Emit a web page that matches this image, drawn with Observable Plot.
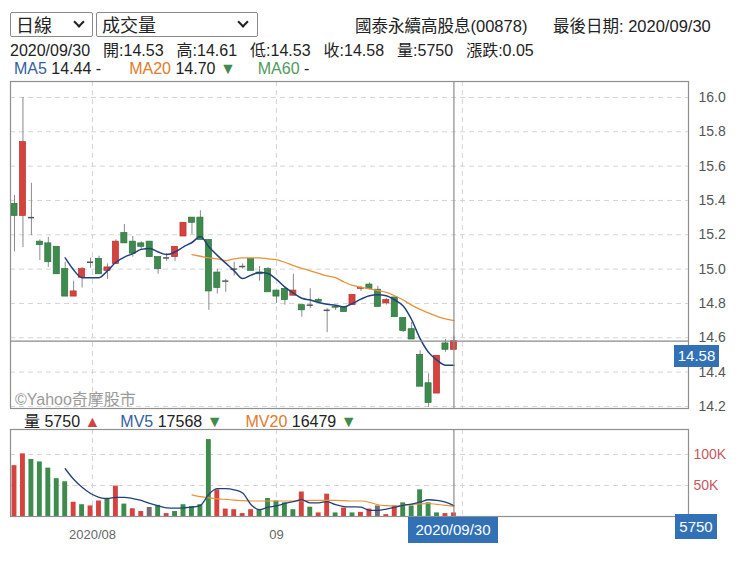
<!DOCTYPE html>
<html><head><meta charset="utf-8">
<script src="https://cdn.jsdelivr.net/npm/d3@7"></script>
<script src="https://cdn.jsdelivr.net/npm/@observablehq/plot@0.6"></script>
<style>
body{margin:0;background:#fff;font-family:"Liberation Sans","Noto Sans CJK TC",sans-serif;color:#222;}
#wrap{position:relative;width:740px;height:564px;overflow:hidden;}
.abs{position:absolute;white-space:nowrap;}
.sel{position:absolute;border:1px solid #8a8a8a;border-radius:2px;height:25px;box-sizing:border-box;font-size:18px;line-height:23px;padding-left:5px;color:#222;font-family:"Noto Sans CJK TC",sans-serif;}
.chev{position:absolute;width:6px;height:6px;border-right:2px solid #222;border-bottom:2px solid #222;transform:rotate(45deg);top:5px;}
.t15{font-size:16px;}
.box{position:absolute;background:#3271b6;color:#fff;text-align:center;font-size:15px;}
.sp{margin-right:13px;}
</style>
</head><body>
<div id="wrap">
  <div class="sel" style="left:10px;top:12px;width:83px;">日線<span class="chev" style="left:64px"></span></div>
  <div class="sel" style="left:96px;top:12px;width:162px;">成交量<span class="chev" style="left:142px"></span></div>
  <div class="abs" style="left:355px;top:13px;font-size:16.5px;">國泰永續高股息(00878)</div>
  <div class="abs" style="left:553px;top:13px;font-size:16.5px;">最後日期: 2020/09/30</div>
  <div class="abs t15" id="info" style="left:10px;top:37px;"></div>
  <div class="abs t15" id="ma" style="left:14px;top:60px;"></div>
  <div id="mainChart" class="abs" style="left:0;top:76px;"></div>
  <div class="abs" style="left:15px;top:386px;font-size:16px;color:#9a9a9a;">©Yahoo奇摩股市</div>
  <div class="abs t15" id="vhead" style="left:24px;top:408px;"></div>
  <div id="volChart" class="abs" style="left:0;top:424px;"></div>
  <div class="box" id="pbox" style="left:674px;top:345px;width:45px;height:22px;line-height:22px;"></div>
  <div class="box" style="left:408px;top:517px;width:90px;height:26px;line-height:26px;">2020/09/30</div>
  <div class="box" id="vbox" style="left:675px;top:514px;width:42px;height:25px;line-height:25px;"></div>
</div>
<script>
// ---- data (index 0 = 2020/07/20 ... index 52 = 2020/09/30) ----
const open  = [15.38,15.31,15.30,15.16,15.15,15.13,15.00,14.84,14.95,15.04,15.06,14.99,15.03,15.21,15.16,15.15,15.16,15.07,15.065,15.07,15.19,15.30,15.30,15.17,14.98,14.93,15.00,15.015,15.06,14.98,15.00,14.875,14.885,14.845,14.79,14.79,14.82,14.76,14.78,14.78,14.79,14.885,14.91,14.88,14.80,14.835,14.715,14.65,14.50,14.335,14.275,14.567,14.53];
const high  = [15.43,16.00,15.50,15.17,15.185,15.13,15.04,14.93,15.01,15.065,15.075,15.03,15.17,15.26,15.19,15.16,15.16,15.07,15.09,15.13,15.27,15.30,15.34,15.17,15.00,14.94,15.04,15.03,15.06,15.015,15.01,14.875,14.885,14.97,14.79,14.886,14.83,14.77,14.785,14.78,14.85,14.90,14.92,14.90,14.83,14.835,14.715,14.69,14.525,14.39,14.495,14.59,14.61];
const low   = [15.10,15.125,15.195,15.05,15.01,14.97,14.84,14.84,14.89,15.005,14.97,14.94,15.03,15.15,15.07,15.11,15.07,14.97,15.045,15.045,15.19,15.20,15.17,14.76,14.855,14.865,14.96,15.00,14.99,14.93,14.865,14.80,14.79,14.845,14.72,14.77,14.80,14.63,14.76,14.75,14.79,14.87,14.88,14.78,14.79,14.72,14.63,14.59,14.315,14.195,14.275,14.515,14.53];
const close = [15.31,15.74,15.30,15.14,15.04,14.97,14.84,14.87,15.00,15.04,14.97,15.01,15.16,15.15,15.09,15.13,15.07,15.00,15.065,15.13,15.27,15.27,15.17,14.87,14.89,14.93,15.00,15.015,14.99,14.97,14.865,14.84,14.82,14.875,14.76,14.79,14.81,14.76,14.775,14.75,14.85,14.89,14.885,14.78,14.82,14.72,14.64,14.59,14.315,14.22,14.495,14.53,14.58];
const ma5 = [null,null,null,null,null,null,15.065,14.995,14.95,14.95,14.95,14.99,15.04,15.07,15.09,15.115,15.12,15.10,15.085,15.10,15.13,15.155,15.19,15.13,15.08,15.035,14.99,14.945,14.965,14.98,14.975,14.94,14.895,14.86,14.83,14.82,14.805,14.795,14.79,14.78,14.80,14.825,14.845,14.85,14.845,14.82,14.785,14.705,14.595,14.515,14.47,14.44,14.44];
const ma20 = [null,null,null,null,null,null,null,null,null,null,null,null,null,null,null,null,null,null,null,null,null,15.085,15.075,15.065,15.06,15.05,15.06,15.065,15.065,15.065,15.06,15.055,15.04,15.02,15.005,14.99,14.975,14.96,14.95,14.925,14.905,14.895,14.885,14.875,14.865,14.845,14.82,14.79,14.765,14.745,14.725,14.71,14.70];
const volume = [82000,101000,92000,88000,78000,61000,56000,23000,19000,17000,25000,28000,49000,20000,12500,8000,14500,18000,4700,8000,19000,16000,19000,124000,43000,12000,11000,4700,11000,11000,29000,25000,22000,11000,39500,15000,5800,36000,5800,13600,5800,6700,12000,17000,3000,17000,22000,17000,43000,22000,5800,4700,5750];
const volDir = ["u","u","d","d","d","d","d","u","d","u","u","d","u","d","u","u","f","d","u","d","d","d","d","d","u","u","u","u","u","d","d","d","d","d","u","d","u","u","d","u","d","u","u","f","u","u","d","d","d","d","d","u","u"];
const mv5 = [null,null,null,null,null,null,77000,60000,47000,37000,31000,29000,31000,31000,29000,26000,21000,17000,14000,13600,14000,15000,18000,36000,45000,45000,43000,38000,19000,11000,15000,17000,21000,24000,27000,22000,22000,24000,19000,16000,15500,15000,10000,10000,12000,15000,18000,20000,23000,27000,26000,23000,17568];
const mv20 = [null,null,null,null,null,null,null,null,null,null,null,null,null,null,null,null,null,null,null,null,null,35000,32000,30000,28500,27500,26500,25500,25000,25000,25000,25000,25000,25000,25500,26000,26000,26000,26000,25500,25000,25000,23000,19000,17500,17000,18000,19500,20500,21000,19500,18000,16479];
const priceTicks = [14.2,14.4,14.6,14.8,15.0,15.2,15.4,15.6,15.8,16.0];
const volTicks = [0,50000,100000];
const volLabelTicks = [50000,100000];
const monthPos = [9.23,31,53];
const monthLabels = ["2020/08","09","10"];
const lastIndex = 52;

const RED="#d6433e", GREEN="#3d8c4d", GRAY="#6f6f6f";
const fillC = {u:RED,d:GREEN,f:GRAY};
const edgeC = {u:"#b8322e",d:"#2e7040",f:"#555"};

const last = lastIndex;
const chg = (close[last]-close[last-1]).toFixed(2);
const gap = w => `<span style="display:inline-block;width:${w}px"></span>`;
document.getElementById("info").innerHTML =
  `<span class="sp">2020/09/30</span><span class="sp">開:${open[last].toFixed(2)}</span><span class="sp">高:${high[last].toFixed(2)}</span><span class="sp">低:${low[last].toFixed(2)}</span><span class="sp">收:${close[last].toFixed(2)}</span><span class="sp">量:${volume[last]}</span><span>漲跌:${chg}</span>`;
document.getElementById("ma").innerHTML =
  `<span style="color:#35609f">MA5</span> ${ma5[last].toFixed(2)} -${gap(28)}<span style="color:#e07b2a">MA20</span> ${ma20[last].toFixed(2)} <span style="color:${GREEN}">▼</span>${gap(22)}<span style="color:#4f9a5e">MA60</span> -`;
document.getElementById("vhead").innerHTML =
  `量 ${volume[last]} <span style="color:${RED}">▲</span>${gap(20)}<span style="color:#35609f">MV5</span> ${mv5[last]} <span style="color:${GREEN}">▼</span>${gap(23)}<span style="color:#e07b2a">MV20</span> ${mv20[last]} <span style="color:${GREEN}">▼</span>`;
document.getElementById("pbox").textContent = close[last].toFixed(2);
document.getElementById("vbox").textContent = volume[last];

const rows = open.map((o,i)=>({i,o,h:high[i],l:low[i],c:close[i],
  dir: close[i]>o?"u":close[i]<o?"d":"f", ma5:ma5[i], ma20:ma20[i],
  v:volume[i], vd:volDir[i], mv5:mv5[i], mv20:mv20[i]}));

const xDomain = [-0.473, 79.76];
const hw = 0.36, vw = 0.29;

const main = Plot.plot({
  width:740, height:340, marginLeft:10, marginRight:52, marginTop:5, marginBottom:8,
  style:{fontFamily:"Liberation Sans, Noto Sans CJK TC, sans-serif", fontSize:"13px", color:"#555", background:"transparent"},
  x:{domain:xDomain, axis:null},
  y:{domain:[14.188,16.093], axis:null},
  marks:[
    Plot.ruleY(priceTicks,{stroke:"#d4d4d4", strokeDasharray:"5,4"}),
    Plot.ruleX(monthPos,{stroke:"#d4d4d4", strokeDasharray:"5,4"}),
    Plot.axisY(priceTicks,{anchor:"right", tickSize:0, tickPadding:10, tickFormat:d=>d.toFixed(1), fontSize:14, color:"#555", label:null}),
    Plot.ruleX(rows,{x:"i", y1:"l", y2:"h", stroke:"#8a8a8a", strokeWidth:1}),
    Plot.rect(rows.filter(d=>d.dir!=="f"),{x1:d=>d.i-hw, x2:d=>d.i+hw, y1:"o", y2:"c", fill:d=>fillC[d.dir], stroke:d=>edgeC[d.dir], strokeWidth:0.7}),
    Plot.ruleY(rows.filter(d=>d.dir==="f"),{y:"c", x1:d=>d.i-hw, x2:d=>d.i+hw, stroke:"#555", strokeWidth:1.5}),
    Plot.line(rows.filter(d=>d.ma20!=null),{x:"i", y:"ma20", stroke:"#e8923a", strokeWidth:1.3, curve:"monotone-x"}),
    Plot.line(rows.filter(d=>d.ma5!=null),{x:"i", y:"ma5", stroke:"#22407d", strokeWidth:1.5, curve:"monotone-x"}),
    Plot.ruleY([close[last]],{stroke:"#8a8a8a", strokeWidth:1.2}),
    Plot.ruleX([last],{stroke:"#8a8a8a", strokeWidth:1.2}),
    Plot.frame({stroke:"#8f8f8f", strokeWidth:1.2})
  ]
});
document.getElementById("mainChart").append(main);

const vol = Plot.plot({
  width:740, height:130, marginLeft:10, marginRight:52, marginTop:5, marginBottom:38,
  style:{fontFamily:"Liberation Sans, Noto Sans CJK TC, sans-serif", fontSize:"13px", color:"#555", background:"transparent"},
  x:{domain:xDomain, axis:null},
  y:{domain:[0,140300], axis:null},
  marks:[
    Plot.ruleY(volTicks,{stroke:"#d4d4d4", strokeDasharray:"5,4"}),
    Plot.ruleX(monthPos,{stroke:"#d4d4d4", strokeDasharray:"5,4"}),
    Plot.axisY(volLabelTicks,{anchor:"right", tickSize:0, tickPadding:5, tickFormat:d=>(d/1000)+"K", fontSize:14, color:"#c45a5f", label:null}),
    Plot.axisX(monthPos.slice(0,2),{anchor:"bottom", tickSize:0, tickPadding:13, tickFormat:(d,k)=>monthLabels[k], fontSize:13, color:"#666", label:null}),
    Plot.rect(rows,{x1:d=>d.i-vw, x2:d=>d.i+vw, y1:0, y2:"v", fill:d=>fillC[d.vd]}),
    Plot.line(rows.filter(d=>d.mv20!=null),{x:"i", y:"mv20", stroke:"#e8923a", strokeWidth:1.2, curve:"monotone-x"}),
    Plot.line(rows.filter(d=>d.mv5!=null),{x:"i", y:"mv5", stroke:"#22407d", strokeWidth:1.3, curve:"monotone-x"}),
    Plot.ruleX([last],{stroke:"#8a8a8a", strokeWidth:1.2}),
    Plot.frame({stroke:"#8f8f8f", strokeWidth:1.2})
  ]
});
document.getElementById("volChart").append(vol);
</script>
</body></html>
